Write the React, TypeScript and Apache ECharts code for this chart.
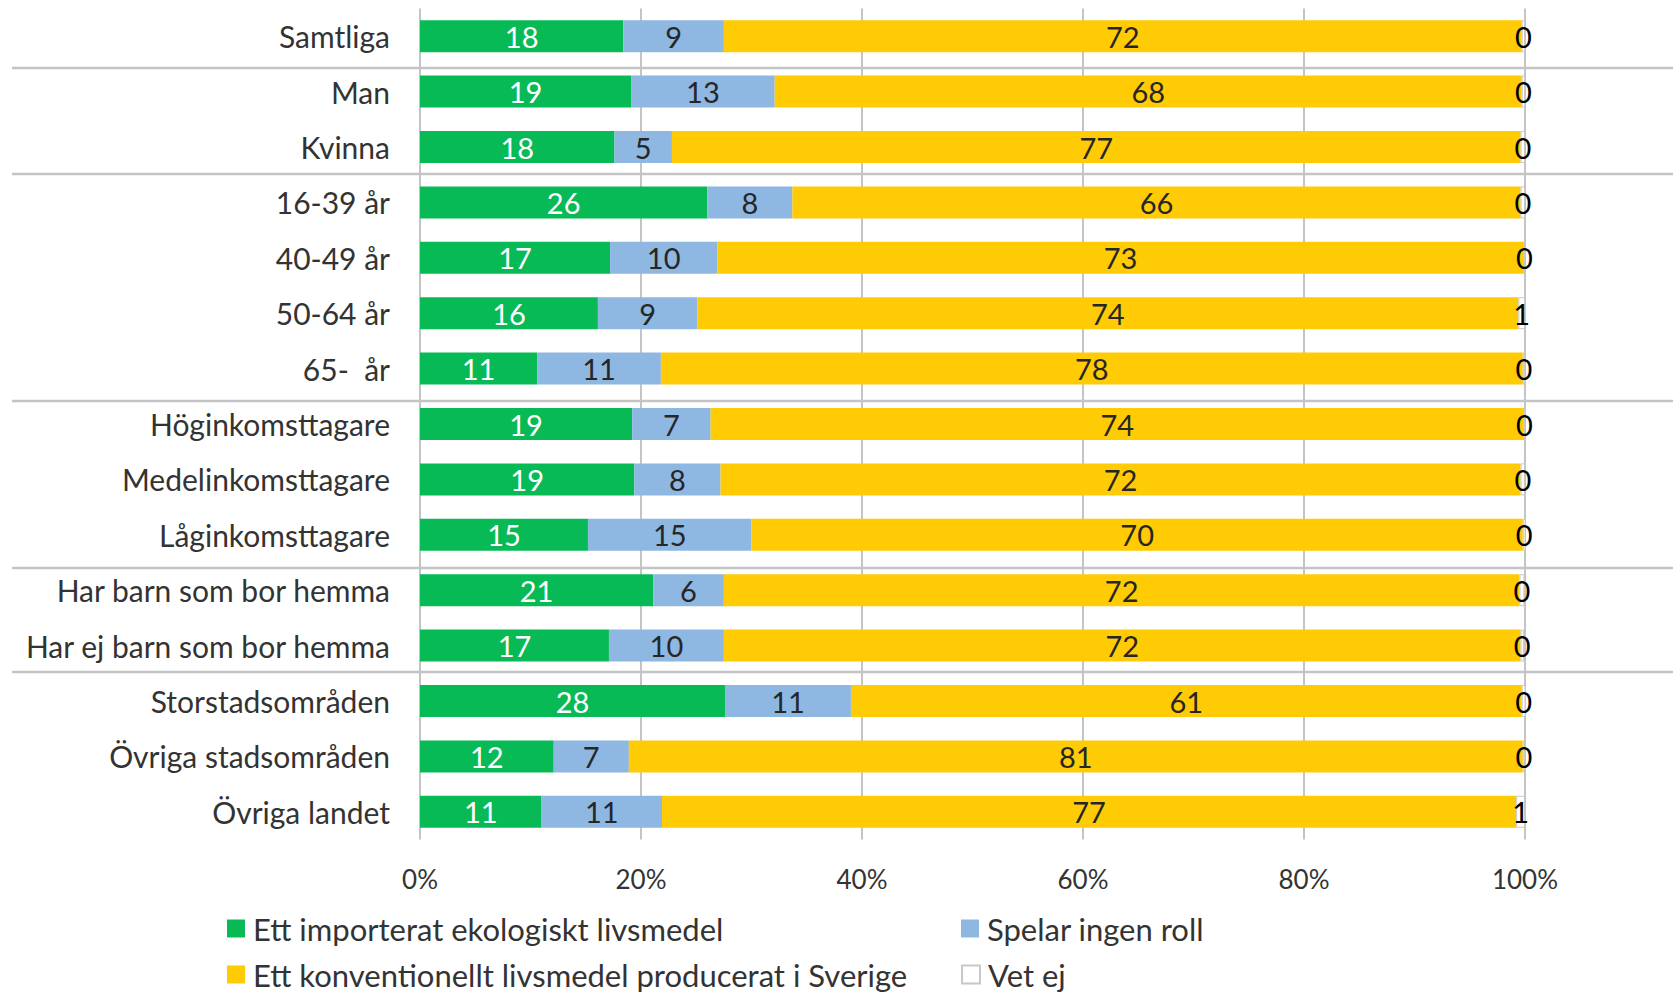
import React, { useEffect, useRef } from "react";
import * as echarts from "echarts";

const categories = [
  "Samtliga",
  "Man",
  "Kvinna",
  "16-39 år",
  "40-49 år",
  "50-64 år",
  "65-  år",
  "Höginkomsttagare",
  "Medelinkomsttagare",
  "Låginkomsttagare",
  "Har barn som bor hemma",
  "Har ej barn som bor hemma",
  "Storstadsområden",
  "Övriga stadsområden",
  "Övriga landet",
];

const seriesNames = [
  "Ett importerat ekologiskt livsmedel",
  "Spelar ingen roll",
  "Ett konventionellt livsmedel producerat i Sverige",
  "Vet ej",
];

const importedOrganic = [18.4, 19.1, 17.6, 26.0, 17.2, 16.1, 10.6, 19.2, 19.4, 15.2, 21.1, 17.1, 27.6, 12.1, 11.0];
const noRole = [9.1, 13.0, 5.2, 7.7, 9.7, 9.0, 11.2, 7.1, 7.8, 14.8, 6.4, 10.4, 11.4, 6.8, 10.9];
const conventionalSwedish = [72.2, 67.6, 76.8, 65.9, 73.0, 74.3, 78.0, 73.6, 72.4, 69.8, 72.0, 72.1, 60.7, 80.9, 77.3];
const dontKnow = [0.3, 0.3, 0.4, 0.4, 0.1, 0.6, 0.2, 0.1, 0.4, 0.3, 0.45, 0.3, 0.35, 0.2, 0.8];

const xTicks = [0, 20, 40, 60, 80, 100];
// separators drawn after these category indices
const groupEnds = [0, 2, 6, 9, 11];
const groupLineNudge = [4, -1, 5, 5, -1];

const colors = ["#08BA56", "#8EB7E2", "#FECB05", "#FFFFFF"];
const labelColors = ["#FFFFFF", "#262626", "#262626", "#000000"];
const FONT = "Lato";

// legend placement: [left, top] for each series item
const legendPos = [
  [227, 913],
  [961, 913],
  [227, 959],
  [961, 959],
];

export default function App() {
  const ref = useRef<HTMLDivElement>(null);

  useEffect(() => {
    if (!ref.current) return;
    const chart = echarts.init(ref.current, undefined, { renderer: "svg" });
    const dataSets = [importedOrganic, noRole, conventionalSwedish, dontKnow];

    const series = dataSets.map((d, i) => ({
      name: seriesNames[i],
      type: "bar",
      stack: "total",
      barWidth: 32,
      data: d,
      itemStyle:
        i === 3
          ? { color: colors[i], borderColor: "#c8c8c8", borderWidth: 1 }
          : { color: colors[i] },
      label: {
        show: true,
        position: "inside",
        color: labelColors[i],
        fontFamily: FONT,
        fontSize: 29,
        formatter: (p: any) => String(Math.round(p.value)),
      },
    }));

    const legends = seriesNames.map((n, i) => ({
      data: [n],
      orient: "horizontal",
      left: legendPos[i][0],
      top: legendPos[i][1],
      itemWidth: 18,
      itemHeight: 18,
      icon: "rect",
      padding: 0,
      textStyle: {
        fontFamily: FONT,
        fontSize: 31,
        color: "#333333",
        lineHeight: 31,
        padding: [0, 0, 0, 3],
      },
    }));

    chart.setOption({
      animation: false,
      backgroundColor: "#ffffff",
      textStyle: { fontFamily: FONT },
      grid: { left: 420, right: 148, top: 8.5, height: 831, containLabel: false },
      xAxis: {
        type: "value",
        min: 0,
        max: 100,
        interval: 20,
        axisLine: { show: false },
        axisTick: { show: false },
        splitLine: { show: true, lineStyle: { color: "#c4c4c4", width: 2 } },
        axisLabel: {
          formatter: (v: number) => (xTicks.includes(v) ? v + "%" : ""),
          color: "#333333",
          fontFamily: FONT,
          fontSize: 26,
          margin: 26,
        },
      },
      yAxis: {
        type: "category",
        data: categories,
        inverse: true,
        axisLine: { show: false },
        axisTick: { show: false },
        axisLabel: {
          color: "#333333",
          fontFamily: FONT,
          fontSize: 30,
          margin: 30,
        },
      },
      legend: legends,
      series,
    });

    const width = chart.getWidth();
    const lines = groupEnds.map((i, k) => {
      const a = chart.convertToPixel({ yAxisIndex: 0 }, i) as number;
      const b = chart.convertToPixel({ yAxisIndex: 0 }, i + 1) as number;
      const y = Math.round((a + b) / 2) + groupLineNudge[k];
      return {
        type: "line",
        shape: { x1: 12, y1: y, x2: width, y2: y },
        style: { stroke: "#c4c4c4", lineWidth: 2.5 },
        silent: true,
      };
    });
    chart.setOption({ graphic: lines });

    return () => chart.dispose();
  }, []);

  return (
    <div
      ref={ref}
      style={{ position: "fixed", left: 0, top: 0, width: 1673, height: 995 }}
    />
  );
}
